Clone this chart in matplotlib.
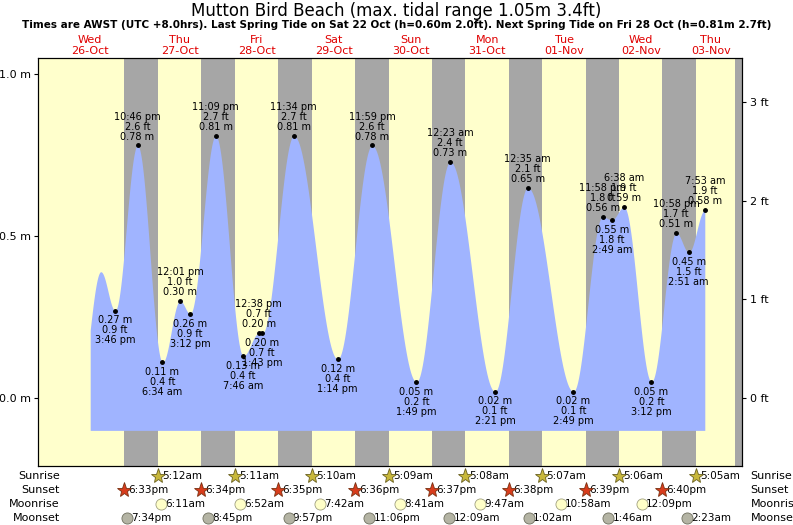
import numpy as np
import matplotlib
matplotlib.use("Agg")
import matplotlib.pyplot as plt

# ---- data (hours since 26-Oct 00:00 AWST) ----
start_time, start_height = 8.0, 0.21
unlabeled_peak = (11.3, 0.39)
tide_times = ["3:46 pm", "10:46 pm", "6:34 am", "12:01 pm", "3:12 pm", "11:09 pm",
              "7:46 am", "12:38 pm", "1:43 pm", "11:34 pm", "1:14 pm", "11:59 pm",
              "1:49 pm", "12:23 am", "2:21 pm", "12:35 am", "2:49 pm", "11:58 pm",
              "2:49 am", "6:38 am", "3:12 pm", "10:58 pm", "2:51 am", "7:53 am"]
tide_days = [0, 0, 1, 1, 1, 1, 2, 2, 2, 2, 3, 3, 4, 5, 5, 6, 6, 6, 7, 7, 7, 7, 8, 8]
tide_m = [0.27, 0.78, 0.11, 0.30, 0.26, 0.81, 0.13, 0.20, 0.20, 0.81, 0.12, 0.78,
          0.05, 0.73, 0.02, 0.65, 0.02, 0.56, 0.55, 0.59, 0.05, 0.51, 0.45, 0.58]
day_names = ["Wed", "Thu", "Fri", "Sat", "Sun", "Mon", "Tue", "Wed", "Thu"]
day_dates = ["26-Oct", "27-Oct", "28-Oct", "29-Oct", "30-Oct", "31-Oct", "01-Nov", "02-Nov", "03-Nov"]
sunrise = ["5:12am", "5:11am", "5:10am", "5:09am", "5:08am", "5:07am", "5:06am", "5:05am"]  # days 1..8
sunset = ["6:33pm", "6:34pm", "6:35pm", "6:36pm", "6:37pm", "6:38pm", "6:39pm", "6:40pm"]   # days 0..7
moonrise = ["6:11am", "6:52am", "7:42am", "8:41am", "9:47am", "10:58am", "12:09pm"]         # days 1..7
moonset = ["7:34pm", "8:45pm", "9:57pm", "11:06pm", "12:09am", "1:02am", "1:46am", "2:23am"]
moonset_days = [0, 1, 2, 3, 5, 6, 7, 8]

def hrs(s):
    s = s.replace(" ", "")
    ap = s[-2:]; h, m = s[:-2].split(":")
    h = int(h) % 12 + (12 if ap == "pm" else 0)
    return h + int(m) / 60

tt = np.array([d * 24 + hrs(s) for d, s in zip(tide_days, tide_times)])
hh = np.array(tide_m)

# curve via cosine between extremes
kx = np.concatenate([[start_time, unlabeled_peak[0]], tt])
ky = np.concatenate([[start_height, unlabeled_peak[1]], hh])
xs, ys = [], []
for i in range(len(kx) - 1):
    x = np.linspace(kx[i], kx[i + 1], 40)
    f = (1 - np.cos(np.pi * (x - kx[i]) / (kx[i + 1] - kx[i]))) / 2
    if i == 0:
        f = np.sin(np.pi / 2 * (x - kx[0]) / (kx[1] - kx[0]))
    xs.append(x); ys.append(ky[i] + (ky[i + 1] - ky[i]) * f)
xs = np.concatenate(xs); ys = np.concatenate(ys)

fig = plt.figure(figsize=(7.93, 5.25), dpi=100)
ax = fig.add_axes([38 / 793, 1 - 466 / 525, 704 / 793, 408 / 525])
XMIN, XMAX = -8.3, 211.5
YMIN, YMAX = -0.21, 1.05
ax.set_xlim(XMIN, XMAX); ax.set_ylim(YMIN, YMAX)
ax.set_facecolor("#ffffcc")

# night bands
for d in range(8):
    s = d * 24 + hrs(sunset[d]); r = (d + 1) * 24 + hrs(sunrise[d])
    ax.axvspan(s, r, color="#a6a6a6", lw=0, zorder=0)
ax.axvspan(209.3, XMAX, color="#a6a6a6", lw=0, zorder=0)

ax.fill_between(xs, -0.1, ys, color="#a0b4ff", lw=0, zorder=1)

# annotations
ext = np.concatenate([[unlabeled_peak[1]], hh, [hh[-1] - 0.1]])
for i, (t, m, ts) in enumerate(zip(tt, hh, tide_times)):
    prev, nxt = ext[i], ext[i + 2]
    high = m >= prev and m >= nxt
    ft = m * 3.28084
    ax.plot(t, m, "o", color="black", ms=2.5, zorder=3)
    if high:
        ax.text(t, m + 0.012, f"{ts}\n{ft:.1f} ft\n{m:.2f} m", ha="center", va="bottom",
                fontsize=7, linespacing=1.0, zorder=4)
    else:
        ax.text(t, m - 0.015, f"{m:.2f} m\n{ft:.1f} ft\n{ts}", ha="center", va="top",
                fontsize=7, linespacing=1.0, zorder=4)

ax.set_yticks([0.0, 0.5, 1.0])
ax.set_yticklabels(["0.0 m", "0.5 m", "1.0 m"], fontsize=8)
ax.tick_params(axis="y", length=3, pad=2)
ax.set_xticks([])
ax2 = ax.twinx()
ax2.set_ylim(YMIN * 3.28084, YMAX * 3.28084)
ax2.set_yticks([0, 1, 2, 3]); ax2.set_yticklabels(["0 ft", "1 ft", "2 ft", "3 ft"], fontsize=8)
ax2.tick_params(axis="y", length=3, pad=3)
for a in (ax, ax2):
    for sp in a.spines.values():
        sp.set_linewidth(0.8)

# day labels
for d in range(9):
    c = d * 24 + 12
    if d == 0:
        c = (XMIN + 24) / 2
    if d == 8:
        c = (192 + XMAX) / 2
    ax.text(c, 1.033, day_names[d], transform=ax.get_xaxis_transform(), ha="center",
            va="bottom", fontsize=8, color="#e00000")
    ax.text(c, 1.004, day_dates[d], transform=ax.get_xaxis_transform(), ha="center",
            va="bottom", fontsize=8, color="#e00000")

fig.text(0.5, 1 - 11 / 525, "Mutton Bird Beach (max. tidal range 1.05m 3.4ft)",
         ha="center", va="center", fontsize=12)
fig.text(0.5, 1 - 25 / 525, "Times are AWST (UTC +8.0hrs). Last Spring Tide on Sat 22 Oct (h=0.60m 2.0ft). Next Spring Tide on Fri 28 Oct (h=0.81m 2.7ft)",
         ha="center", va="center", fontsize=7.5, fontweight="bold")

# bottom rows
tr = ax.get_xaxis_transform()
rows = [(-0.025, "Sunrise"), (-0.059, "Sunset"), (-0.093, "Moonrise"), (-0.127, "Moonset")]
for y, lab in rows:
    ax.text(0.031, y, lab, transform=ax.transAxes, ha="right", va="center", fontsize=8, clip_on=False)
    ax.text(1.012, y, lab, transform=ax.transAxes, ha="left", va="center", fontsize=8, clip_on=False)

def row(times, days, y, marker, fc, ec, ms):
    for d, s in zip(days, times):
        t = d * 24 + hrs(s)
        ax.plot(t, y, marker=marker, ms=ms, mfc=fc, mec=ec, mew=0.6, transform=tr, clip_on=False, zorder=5)
        ax.text(t + 1.3, y, s, transform=tr, ha="left", va="center", fontsize=7.5, clip_on=False)

row(sunrise, range(1, 9), rows[0][0], "*", "#c8b83c", "#6a6020", 11)
row(sunset, range(0, 8), rows[1][0], "*", "#d83c1c", "#7a3010", 11)
row(moonrise, range(1, 8), rows[2][0], "o", "#ffffc8", "#a0a080", 8)
row(moonset, moonset_days, rows[3][0], "o", "#b4b4a4", "#707060", 8)

fig.savefig("out.png", dpi=100)
